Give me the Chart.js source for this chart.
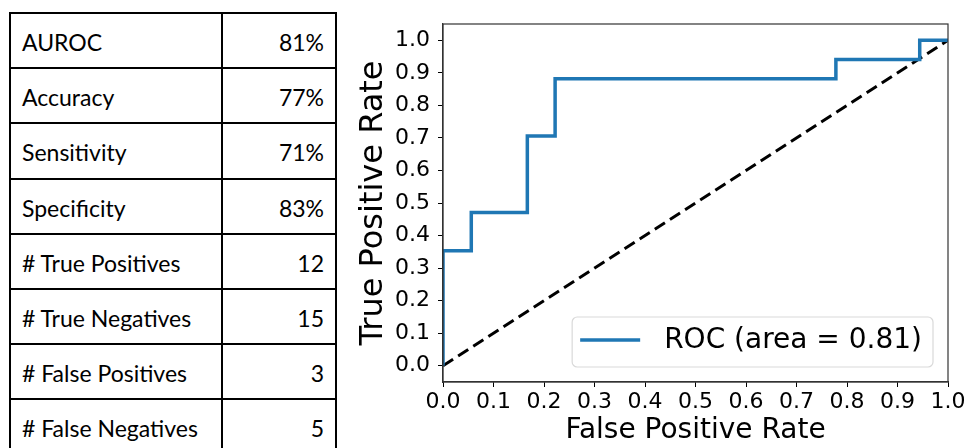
<!DOCTYPE html>
<html>
<head>
<meta charset="utf-8">
<script src="https://cdn.jsdelivr.net/npm/chart.js@4.4.0/dist/chart.umd.min.js"></script>
<style>
  html, body { margin:0; padding:0; width:968px; height:448px; overflow:hidden; background:#fff; }
  #tbl { position:absolute; left:9px; top:12px; border-collapse:collapse; table-layout:fixed;
         font-family: Lato, "Open Sans", sans-serif; font-size:23px; color:#000; }
  #tbl td { border:2px solid #000; height:55.2px; padding:3px 11px 0 11px; box-sizing:border-box; white-space:nowrap; }
  #tbl td.v { text-align:right; }
  #wrap { position:absolute; left:340px; top:0; width:628px; height:448px; }
</style>
</head>
<body>
<table id="tbl"><colgroup><col style="width:212px"><col style="width:114px"></colgroup><tbody></tbody></table>
<div id="wrap"><canvas id="c" width="628" height="448"></canvas></div>
<script>
// ---- table data ----
const metricNames  = ["AUROC", "Accuracy", "Sensitivity", "Specificity",
                      "# True Positives", "# True Negatives", "# False Positives", "# False Negatives"];
const metricValues = ["81%", "77%", "71%", "83%", "12", "15", "3", "5"];

// ---- ROC data ----
const fpr = [0, 0,     0.056, 0.056, 0.167, 0.167, 0.222, 0.222, 0.778, 0.778, 0.944, 0.944, 1.0];
const tpr = [0, 0.353, 0.353, 0.471, 0.471, 0.706, 0.706, 0.882, 0.882, 0.941, 0.941, 1.0,   1.0];
const chanceX = [0, 1];
const chanceY = [0, 1];
const rocLabel = "ROC (area = 0.81)";
const xTickValues = [0, 0.1, 0.2, 0.3, 0.4, 0.5, 0.6, 0.7, 0.8, 0.9, 1.0];
const yTickValues = [0, 0.1, 0.2, 0.3, 0.4, 0.5, 0.6, 0.7, 0.8, 0.9, 1.0];
const xTitle = "False Positive Rate";
const yTitle = "True Positive Rate";

// build table
const tb = document.querySelector('#tbl tbody');
metricNames.forEach((n, i) => {
  const tr = document.createElement('tr');
  const a = document.createElement('td'); a.textContent = n;
  const b = document.createElement('td'); b.textContent = metricValues[i]; b.className = 'v';
  tr.appendChild(a); tr.appendChild(b); tb.appendChild(tr);
});

const ROC_COLOR = '#1f77b4';
const FONT = "'DejaVu Sans', sans-serif";

const framePlugin = {
  id: 'frameAndLegend',
  afterDraw(chart) {
    const ctx = chart.ctx, a = chart.chartArea;
    ctx.save();
    ctx.strokeStyle = '#333';
    ctx.lineWidth = 1.2;
    ctx.strokeRect(a.left, a.top, a.right - a.left, a.bottom - a.top);

    // legend (lower right, inside axes)
    const ds = chart.data.datasets[0];
    ctx.font = "28px " + FONT;
    const tw = ctx.measureText(ds.label).width;
    const padL = 8, handle = 60, gap = 24, padR = 11, h = 50;
    const w = padL + handle + gap + tw + padR;
    const right = a.right - 15, bottom = a.bottom - 15;
    const left = right - w, top = bottom - h;
    ctx.beginPath();
    if (ctx.roundRect) ctx.roundRect(left, top, w, h, 5); else ctx.rect(left, top, w, h);
    ctx.fillStyle = 'rgba(255,255,255,0.85)';
    ctx.fill();
    ctx.strokeStyle = '#d9d9d9';
    ctx.lineWidth = 1.2;
    ctx.stroke();
    const cy = top + h / 2 - 2;
    ctx.beginPath();
    ctx.moveTo(left + padL, cy);
    ctx.lineTo(left + padL + handle, cy);
    ctx.strokeStyle = ds.borderColor;
    ctx.lineWidth = ds.borderWidth;
    ctx.stroke();
    ctx.fillStyle = '#000';
    ctx.textBaseline = 'middle';
    ctx.textAlign = 'left';
    ctx.fillText(ds.label, left + padL + handle + gap, cy + 1);
    ctx.restore();
  }
};

new Chart(document.getElementById('c'), {
  type: 'scatter',
  data: {
    datasets: [
      {
        label: rocLabel,
        data: fpr.map((x, i) => ({ x: x, y: tpr[i] })),
        showLine: true,
        borderColor: ROC_COLOR,
        borderWidth: 3.5,
        pointRadius: 0,
        fill: false,
        tension: 0
      },
      {
        label: 'chance',
        data: chanceX.map((x, i) => ({ x: x, y: chanceY[i] })),
        showLine: true,
        borderColor: '#000',
        borderWidth: 3,
        borderDash: [12, 6],
        pointRadius: 0,
        fill: false
      }
    ]
  },
  options: {
    responsive: false,
    animation: false,
    layout: { padding: { top: 24, right: 20, left: 0, bottom: 0 } },
    plugins: { legend: { display: false }, tooltip: { enabled: false } },
    scales: {
      x: {
        type: 'linear', min: 0, max: 1,
        afterBuildTicks: s => { s.ticks = xTickValues.map(v => ({ value: v })); },
        afterFit: s => { s.height = 66; },
        ticks: { callback: v => v.toFixed(1), color: '#000', font: { family: FONT, size: 22 }, padding: 2, maxRotation: 0, autoSkip: false },
        grid: { display: true, drawOnChartArea: false, drawTicks: true, tickLength: 5, color: '#000', lineWidth: 1 },
        border: { display: true, color: '#333', width: 1.2 },
        title: { display: true, text: xTitle, color: '#000', font: { family: FONT, size: 28 }, padding: { top: 0, bottom: 0 } }
      },
      y: {
        type: 'linear', min: -0.05, max: 1.05,
        afterBuildTicks: s => { s.ticks = yTickValues.map(v => ({ value: v })); },
        afterFit: s => { s.width = 103; },
        ticks: { callback: v => v.toFixed(1), color: '#000', font: { family: FONT, size: 22 }, padding: 8, autoSkip: false },
        grid: { display: true, drawOnChartArea: false, drawTicks: true, tickLength: 5, color: '#000', lineWidth: 1 },
        border: { display: true, color: '#333', width: 1.2 },
        title: { display: true, text: yTitle, color: '#000', font: { family: FONT, size: 32 }, padding: { top: 14, bottom: 0 } }
      }
    }
  },
  plugins: [framePlugin]
});
</script>
</body>
</html>
